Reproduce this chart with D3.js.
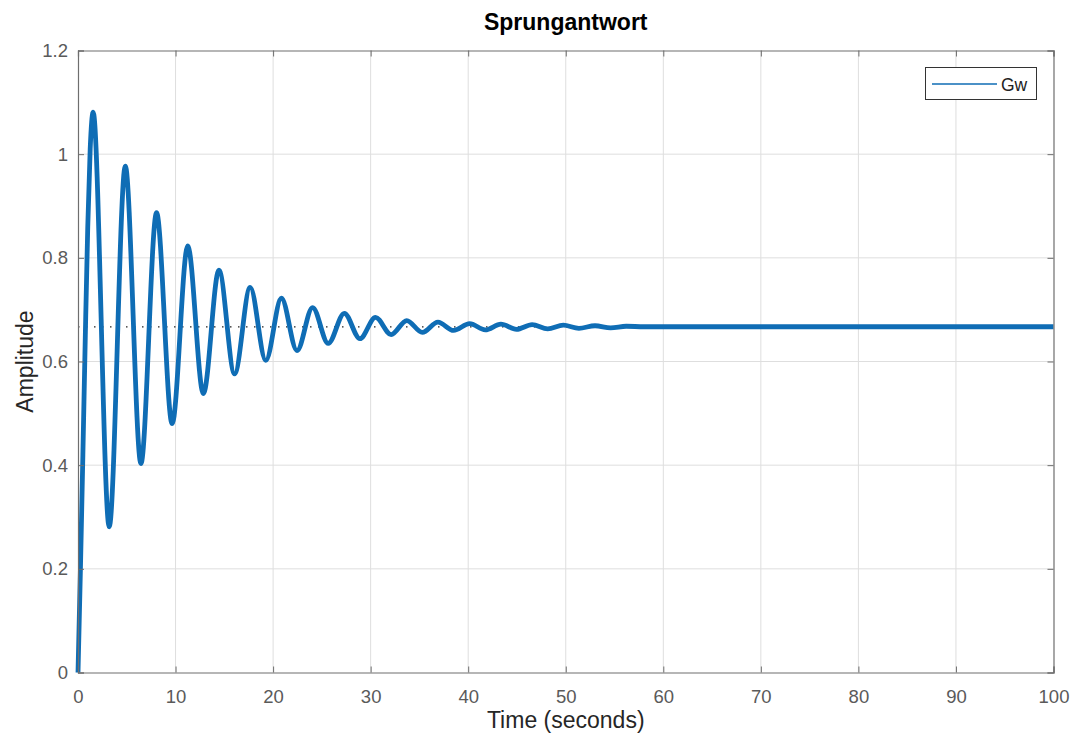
<!DOCTYPE html>
<html>
<head>
<meta charset="utf-8">
<script src="https://cdn.jsdelivr.net/npm/d3@7"></script>
<style>
  html, body { margin: 0; padding: 0; background: #fff; }
  svg { display: block; font-family: "Liberation Sans", Arial, Helvetica, sans-serif; }
</style>
</head>
<body>
<svg id="chart" width="1077" height="735"></svg>
<script>
// Step response samples: time (s) and amplitude at the start, each extremum and the settled tail
const timeSec = [0, 0.25, 0.5, 0.75, 1.0, 1.25, 1.55, 3.2, 4.85, 6.45, 8.05, 9.65, 11.25, 12.85,
  14.45, 16.05, 17.65, 19.25, 20.85, 22.45, 24.05, 25.65, 27.3, 28.9, 30.5, 32.1, 33.7, 35.3,
  36.9, 38.5, 40.15, 41.75, 43.35, 44.95, 46.55, 48.15, 49.75, 51.35, 53.0, 54.6, 56.2, 58.0, 100];
const amplitude = [0, 0.2, 0.42, 0.65, 0.86, 1.01, 1.081, 0.281, 0.977, 0.403, 0.887, 0.480, 0.823, 0.538,
  0.776, 0.576, 0.743, 0.602, 0.722, 0.621, 0.704, 0.635, 0.693, 0.644, 0.685, 0.652, 0.679, 0.656,
  0.676, 0.660, 0.673, 0.661, 0.672, 0.662, 0.671, 0.663, 0.670, 0.664, 0.669, 0.665, 0.668, 0.667, 0.667];
const steadyState = 0.6667;

const xTicks = [0, 10, 20, 30, 40, 50, 60, 70, 80, 90, 100];
const yTicks = [0, 0.2, 0.4, 0.6, 0.8, 1, 1.2];
const titleText = "Sprungantwort";
const xLabelText = "Time (seconds)";
const yLabelText = "Amplitude";
const seriesName = "Gw";

const svg = d3.select("#chart");
const plotL = 78, plotR = 1053.5, plotT = 50.5, plotB = 672.5;

const x = d3.scaleLinear().domain([0, 100]).range([plotL, plotR]);
const y = d3.scaleLinear().domain([0, 1.2]).range([plotB, plotT]);

const lineBlue = "#0f6db5";
const axisGray = "#6e6e6e";
const tickTextGray = "#5a5a5a";

// grid
const grid = svg.append("g");
grid.selectAll("line.vx").data(xTicks.slice(1, -1)).join("line")
  .attr("x1", d => x(d)).attr("x2", d => x(d)).attr("y1", plotT).attr("y2", plotB)
  .attr("stroke", "#dedede").attr("stroke-width", 1);
grid.selectAll("line.hy").data(yTicks.slice(1, -1)).join("line")
  .attr("x1", plotL).attr("x2", plotR).attr("y1", d => y(d)).attr("y2", d => y(d))
  .attr("stroke", "#dedede").attr("stroke-width", 1);

// steady-state reference
svg.append("line")
  .attr("x1", plotL).attr("x2", plotR)
  .attr("y1", y(steadyState)).attr("y2", y(steadyState))
  .attr("stroke", "#222").attr("stroke-width", 1.3).attr("stroke-dasharray", "1.5,6.5");

// response curve
const pts = timeSec.map((t, i) => [t, amplitude[i]]);
const line = d3.line().x(d => x(d[0])).y(d => y(d[1])).curve(d3.curveMonotoneX);
svg.append("path").datum(pts)
  .attr("d", line)
  .attr("fill", "none")
  .attr("stroke", lineBlue)
  .attr("stroke-width", 4.8)
  .attr("stroke-linejoin", "round");

// axes (inward ticks on all sides)
const fontTick = 18.5;
const bottomAxis = d3.axisBottom(x).tickValues(xTicks).tickSize(-6).tickPadding(17).tickFormat(d3.format("d"));
const leftAxis = d3.axisLeft(y).tickValues(yTicks).tickSize(-6).tickPadding(10).tickFormat(d => d === 0 ? "0" : d3.format("~g")(d));
const topAxis = d3.axisTop(x).tickValues(xTicks).tickSize(-6).tickFormat("");
const rightAxis = d3.axisRight(y).tickValues(yTicks).tickSize(-6).tickFormat("");

function styleAxis(g) {
  g.select(".domain").attr("stroke", axisGray).attr("stroke-width", 1.2);
  g.selectAll(".tick line").attr("stroke", axisGray);
  g.selectAll(".tick text").attr("fill", tickTextGray).attr("font-size", fontTick)
    .attr("font-family", "'Liberation Sans', Arial, sans-serif");
}
svg.append("g").attr("transform", `translate(0,${plotB})`).call(bottomAxis).call(styleAxis);
svg.append("g").attr("transform", `translate(${plotL},0)`).call(leftAxis).call(styleAxis);
svg.append("g").attr("transform", `translate(0,${plotT})`).call(topAxis).call(styleAxis);
svg.append("g").attr("transform", `translate(${plotR},0)`).call(rightAxis).call(styleAxis);

// title and labels
svg.append("text").attr("x", (plotL + plotR) / 2).attr("y", 30)
  .attr("text-anchor", "middle").attr("font-size", 23).attr("font-weight", "bold").attr("fill", "#000")
  .text(titleText);
svg.append("text").attr("x", (plotL + plotR) / 2).attr("y", 728)
  .attr("text-anchor", "middle").attr("font-size", 23).attr("fill", "#262626")
  .text(xLabelText);
svg.append("text").attr("transform", `translate(33,${(plotT + plotB) / 2}) rotate(-90)`)
  .attr("text-anchor", "middle").attr("font-size", 23).attr("fill", "#262626")
  .text(yLabelText);

// legend
const lg = svg.append("g");
lg.append("rect").attr("x", 925.5).attr("y", 67.5).attr("width", 111).attr("height", 32)
  .attr("fill", "#fff").attr("stroke", "#333").attr("stroke-width", 1);
lg.append("line").attr("x1", 932).attr("x2", 997).attr("y1", 84).attr("y2", 84)
  .attr("stroke", lineBlue).attr("stroke-width", 1.6);
lg.append("text").attr("x", 1001).attr("y", 91).attr("font-size", 17.5).attr("fill", "#222")
  .text(seriesName);
</script>
</body>
</html>
